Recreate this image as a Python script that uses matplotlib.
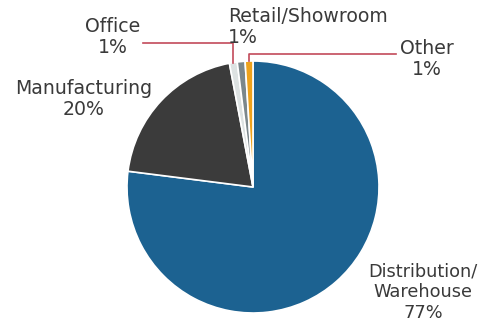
import numpy as np
import matplotlib
matplotlib.use("Agg")
import matplotlib.pyplot as plt

categories = ["Distribution/\nWarehouse", "Manufacturing", "Office", "Retail/Showroom", "Other"]
shares = [77, 20, 1, 1, 1]
colors = ["#1c6291", "#3b3b3b", "#dde2e2", "#7b878c", "#eea21c"]
leader_color = "#c24a5a"

W, H = 481, 325
fig = plt.figure(figsize=(W / 100, H / 100), dpi=100)
ax = fig.add_axes([0, 0, 1, 1])

cx, cy, r = 253, H - 187, 126
wedges, _ = ax.pie(shares, colors=colors, startangle=90, counterclock=False,
                   center=(cx, cy), radius=r, frame=True,
                   wedgeprops=dict(edgecolor="white", linewidth=1.2))
ax.set_xlim(0, W)
ax.set_ylim(0, H)
ax.set_aspect("equal")
ax.axis("off")

font = dict(family="DejaVu Sans", fontsize=13.6, color="#3a3a3a", linespacing=1.12)

def rim(w, frac=0.5):
    ang = np.deg2rad(w.theta1 + (w.theta2 - w.theta1) * frac)
    return cx + r * np.cos(ang), cy + r * np.sin(ang)

def label(i):
    return f"{categories[i]}\n{shares[i]}%"

# Distribution / Warehouse
ax.text(423, H - 292, label(0), ha="center", va="center",
        **{**font, "fontsize": 12.8, "linespacing": 1.2})
# Manufacturing
ax.text(84, H - 99, label(1), ha="center", va="center", **font)

# Office with elbow leader
ox, oy = rim(wedges[2])
ax.text(113, H - 37, label(2), ha="center", va="center", **font)
ax.plot([143, ox, ox], [H - 43, H - 43, oy], color=leader_color, lw=1.2)

# Retail / Showroom, directly above its slice
ax.text(228, H - 27, label(3), ha="left", va="center", **font)

# Other with elbow leader
tx, ty = rim(wedges[4])
ax.text(427, H - 59, label(4), ha="center", va="center", **font)
ax.plot([tx, tx, 396], [ty, H - 54, H - 54], color=leader_color, lw=1.2)

fig.savefig("out.png", dpi=100)
